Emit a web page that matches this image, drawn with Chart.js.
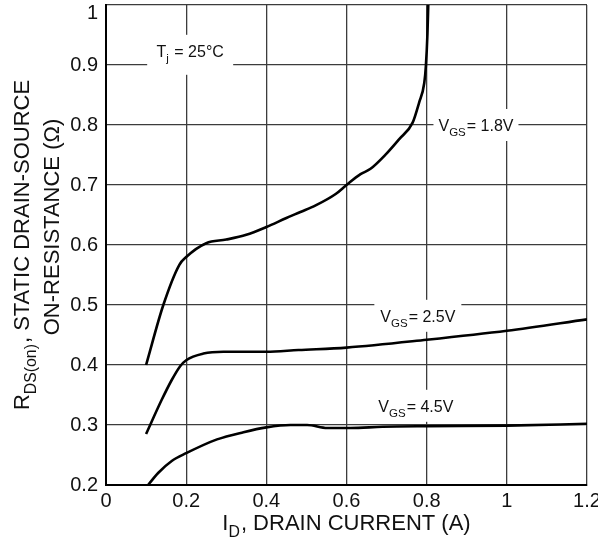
<!DOCTYPE html>
<html>
<head>
<meta charset="utf-8">
<script src="https://cdn.jsdelivr.net/npm/chart.js@4"></script>
<style>
  html, body { margin: 0; padding: 0; background: #fff; }
  #wrap { width: 598px; height: 542px; }
</style>
</head>
<body>
<div id="wrap"><canvas id="rdsChart"></canvas></div>
<script>
// drain current (A) / on-resistance (ohm)
const id18 = [0.1, 0.143, 0.183, 0.2, 0.25, 0.3, 0.35, 0.4, 0.45, 0.485, 0.523, 0.573, 0.6, 0.635, 0.66, 0.698, 0.731, 0.765, 0.781, 0.794, 0.798, 0.802, 0.804];
const rds18 = [0.4, 0.5, 0.567, 0.58, 0.603, 0.609, 0.617, 0.63, 0.645, 0.655, 0.666, 0.685, 0.7, 0.718, 0.727, 0.751, 0.776, 0.804, 0.837, 0.87, 0.898, 0.953, 1.0];

const id25 = [0.1, 0.139, 0.164, 0.185, 0.2, 0.243, 0.293, 0.4, 0.48, 0.6, 0.8, 1.0, 1.2];
const rds25 = [0.285, 0.342, 0.375, 0.398, 0.408, 0.419, 0.422, 0.422, 0.425, 0.429, 0.442, 0.457, 0.476];

const id45 = [0.105, 0.13, 0.164, 0.2, 0.277, 0.343, 0.4, 0.46, 0.502, 0.552, 0.61, 0.69, 0.8, 1.0, 1.2];
const rds45 = [0.2, 0.22, 0.24, 0.253, 0.276, 0.288, 0.296, 0.3, 0.3, 0.295, 0.295, 0.297, 0.298, 0.299, 0.302];

const xTicks = [0, 0.2, 0.4, 0.6, 0.8, 1, 1.2];
const yTicks = [0.2, 0.3, 0.4, 0.5, 0.6, 0.7, 0.8, 0.9, 1];

// in-plot labels: [text, subscript?] pieces, centred at a data point, white box behind
const notes = [
    { parts: [["T"], ["j", 1], [" = 25°C"]], x: 0.21, y: 0.917, w: 86, h: 40, dy: -4 },
    { parts: [["V"], ["GS", 1], ["= 1.8V"]], x: 0.923, y: 0.8, w: 85, h: 32, dy: 0 },
    { parts: [["V"], ["GS", 1], ["= 2.5V"]], x: 0.778, y: 0.482, w: 87, h: 32, dy: 0 },
    { parts: [["V"], ["GS", 1], ["= 4.5V"]], x: 0.773, y: 0.332, w: 83, h: 32, dy: 0 },
];

const FONT = "'Liberation Sans', Arial, sans-serif";
const TICK_SIZE = 20;

const pts = (xs, ys) => xs.map((x, i) => ({ x: x, y: ys[i] }));

function partsWidth(ctx, parts, size) {
    let w = 0;
    parts.forEach(([t, sub]) => {
        ctx.font = (sub ? size * 0.72 : size) + "px " + FONT;
        w += ctx.measureText(t).width + (sub ? 1 : 0);
    });
    return w;
}

// draws pieces left to right from (x, baseline y), subscripts dropped
function drawParts(ctx, parts, x, y, size) {
    ctx.textBaseline = "alphabetic";
    ctx.textAlign = "left";
    parts.forEach(([t, sub]) => {
        ctx.font = (sub ? size * 0.72 : size) + "px " + FONT;
        ctx.fillText(t, x, sub ? y + size * 0.3 : y);
        x += ctx.measureText(t).width + (sub ? 1 : 0);
    });
}

const labelPlugin = {
    id: "labels",
    beforeDatasetsDraw(chart) {
        const ctx = chart.ctx;
        const xs = chart.scales.x, ys = chart.scales.y;
        ctx.save();
        notes.forEach((n) => {
            const cx = xs.getPixelForValue(n.x), cy = ys.getPixelForValue(n.y);
            ctx.fillStyle = "#fff";
            ctx.fillRect(cx - n.w / 2, cy - n.h / 2, n.w, n.h);
            ctx.fillStyle = "#111";
            const w = partsWidth(ctx, n.parts, 16);
            drawParts(ctx, n.parts, cx - w / 2, cy + 6 + n.dy, 16);
        });
        ctx.restore();
    },
    afterDraw(chart) {
        const ctx = chart.ctx;
        const area = chart.chartArea;
        const ys = chart.scales.y;
        ctx.save();
        ctx.fillStyle = "#111";
        // top y tick would be clipped at the canvas edge, so it sits a bit lower
        const top = yTicks[yTicks.length - 1];
        ctx.font = TICK_SIZE + "px " + FONT;
        ctx.textAlign = "right";
        ctx.textBaseline = "middle";
        ctx.fillText(String(top), area.left - 8, ys.getPixelForValue(top) + 8);
        // x axis title
        const xt = [["I"], ["D", 1], [", DRAIN CURRENT (A)"]];
        const xw = partsWidth(ctx, xt, 22);
        drawParts(ctx, xt, (area.left + area.right) / 2 - xw / 2, 530, 22);
        // y axis title, two rotated lines
        const y1 = [["R"], ["DS(on)", 1], [", STATIC DRAIN-SOURCE"]];
        const y2 = [["ON-RESISTANCE (Ω)"]];
        const mid = (area.top + area.bottom) / 2;
        ctx.rotate(-Math.PI / 2);
        const w1 = partsWidth(ctx, y1, 22);
        drawParts(ctx, y1, -mid - w1 / 2, 29, 22);
        const w2 = partsWidth(ctx, y2, 22);
        drawParts(ctx, y2, -mid - w2 / 2 + 18, 59, 22);
        ctx.restore();
    },
};

const line = (data) => ({
    data: data,
    showLine: true,
    borderColor: "#000",
    borderWidth: 2.6,
    pointRadius: 0,
    cubicInterpolationMode: "monotone",
    fill: false,
});

new Chart(document.getElementById("rdsChart").getContext("2d"), {
    type: "scatter",
    data: {
        datasets: [
            line(pts(id18, rds18)),
            line(pts(id25, rds25)),
            line(pts(id45, rds45)),
        ],
    },
    options: {
        responsive: true,
        maintainAspectRatio: false,
        animation: false,
        layout: { padding: { top: 5, right: 11, left: 0, bottom: 0 } },
        plugins: { legend: { display: false }, tooltip: { enabled: false } },
        scales: {
            x: {
                type: "linear",
                min: 0,
                max: 1.2,
                afterBuildTicks: (s) => { s.ticks = xTicks.map((v) => ({ value: v })); },
                afterFit: (s) => { s.height = 57; s.paddingLeft = 0; s.paddingRight = 0; },
                ticks: {
                    color: "#111",
                    padding: 4,
                    maxRotation: 0,
                    autoSkip: false,
                    font: { family: FONT, size: TICK_SIZE },
                    callback: (v) => String(v),
                },
                grid: { color: "#3c3c3c", lineWidth: 1.3, drawTicks: false },
                border: { color: "#000", width: 2 },
            },
            y: {
                type: "linear",
                min: 0.2,
                max: 1,
                afterBuildTicks: (s) => { s.ticks = yTicks.map((v) => ({ value: v })); },
                afterFit: (s) => { s.width = 106; s.paddingTop = 0; s.paddingBottom = 0; },
                ticks: {
                    color: "#111",
                    padding: 8,
                    autoSkip: false,
                    font: { family: FONT, size: TICK_SIZE },
                    callback: (v) => (v === yTicks[yTicks.length - 1] ? "" : String(v)),
                },
                grid: { color: "#3c3c3c", lineWidth: 1.3, drawTicks: false },
                border: { color: "#000", width: 2 },
            },
        },
    },
    plugins: [labelPlugin],
});
</script>
</body>
</html>
